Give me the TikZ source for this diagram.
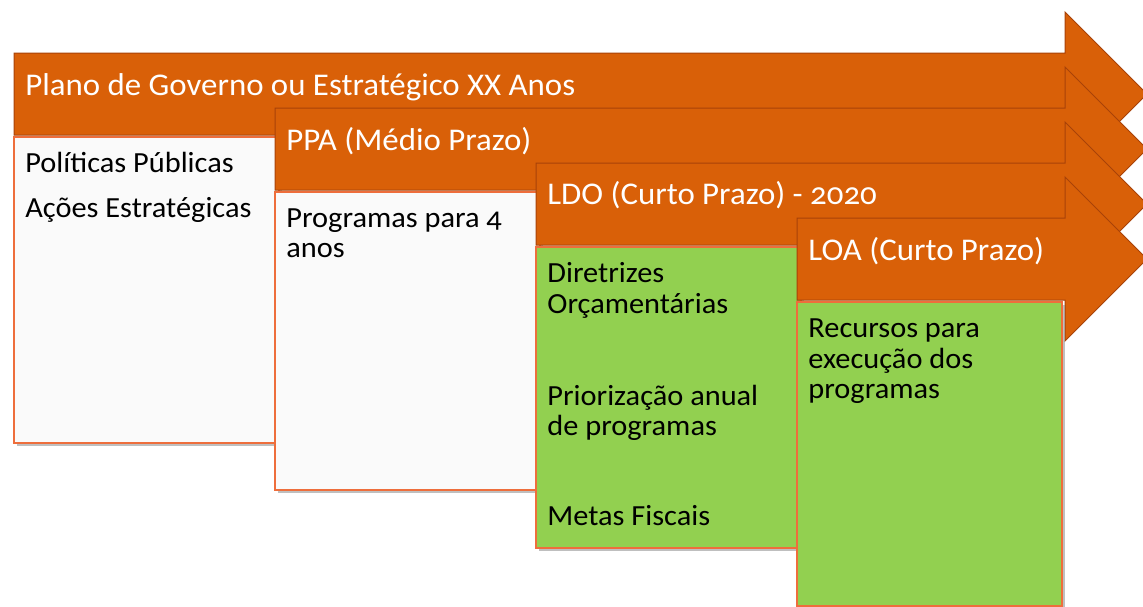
\documentclass[tikz,border=0pt]{standalone}
\usepackage{fontspec}
\setmainfont{Carlito}[Numbers=OldStyle, FakeStretch=1.04]
\usetikzlibrary{shadows}

\definecolor{laranja}{RGB}{217,96,8}
\definecolor{laranjaesc}{RGB}{168,66,8}
\definecolor{borda}{RGB}{238,110,60}
\definecolor{branco}{RGB}{250,250,250}
\definecolor{verde}{RGB}{146,208,80}

\begin{document}
\begin{tikzpicture}[x=0.5pt, y=-0.5pt,
    seta/.style={fill=laranja, draw=laranjaesc, line width=0.5pt, line join=miter},
    caixa/.style={draw=borda, line width=1.2pt,
        drop shadow={shadow xshift=1.5pt, shadow yshift=-1.5pt, opacity=0.5}},
    titulo/.style={anchor=base west, inner sep=0pt, text=white,
        font=\fontsize{15.8}{18}\selectfont},
    texto/.style={anchor=base west, inner sep=0pt, text=black,
        font=\fontsize{14.6}{16}\selectfont},
]
\useasboundingbox[fill=white] (0,0) rectangle (1143,606);

% arrows and boxes, back to front
\foreach \l/\t/\b/\cor in {14/53/443/branco, 275/108/490/branco,
                           536/163/548/verde, 797/218/606/verde} {
    \draw[seta] (\l,\t) -- (1065,\t) -- (1065,{\t-41}) -- (1147,{\t+41})
        -- (1065,{\t+123}) -- (1065,{\t+82}) -- (\l,{\t+82}) -- cycle;
    \draw[caixa, fill=\cor] (\l,{\t+84}) rectangle ({\l+265},\b);
}

% arrow titles
\node[titulo] (plano) at (25,95) {Plano de Governo ou Estratégico XX Anos};
\node[titulo] (ppa) at (286,150) {PPA (Médio Prazo)};
\node[titulo] (ldo) at (547,204) {LDO (Curto Prazo) - 2020};
\node[titulo] (loa) at (808,260) {LOA (Curto Prazo)};

% box contents
\node[texto] (politicas) at (25,172) {Políticas Públicas};
\node[texto] (acoes) at (25,217) {Ações Estratégicas};

\node[texto] (programas) at (286,227) {Programas para 4};
\node[texto] (anos) at (286,257) {anos};

\node[texto] (diretrizes) at (547,282) {Diretrizes};
\node[texto] (orcament) at (547,313) {Orçamentárias};
\node[texto] (prioriz) at (547,405) {Priorização anual};
\node[texto] (deprog) at (547,435) {de programas};
\node[texto] (metas) at (547,525) {Metas Fiscais};

\node[texto] (recursos) at (808,337) {Recursos para};
\node[texto] (execucao) at (808,368) {execução dos};
\node[texto] (progs) at (808,398) {programas};
\end{tikzpicture}
\end{document}
